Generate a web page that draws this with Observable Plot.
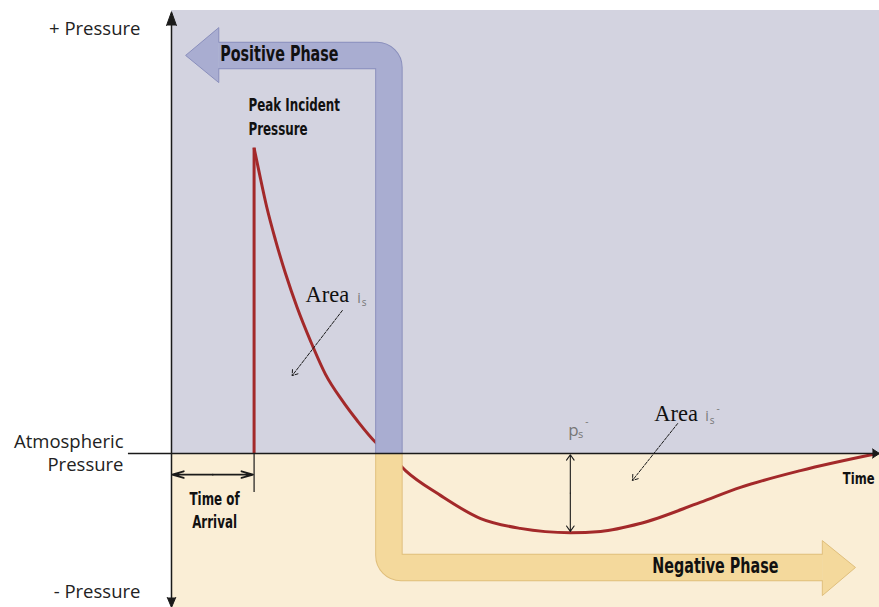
<!DOCTYPE html>
<html>
<head>
<meta charset="utf-8">
<script src="https://cdn.jsdelivr.net/npm/d3@7"></script>
<script src="https://cdn.jsdelivr.net/npm/@observablehq/plot@0.6"></script>
<style>
  html, body { margin: 0; padding: 0; background: #fff; }
  #chart svg { display: block; }
</style>
</head>
<body>
<div id="chart"></div>
<script>
// Free-field blast wave: incident pressure at a fixed point versus time.
// Time runs 0..100 (arbitrary units), pressure is relative to the peak (=100).

const arrivalTime = 11.7;     // time of arrival
const peakPressure = 100;     // peak incident pressure
const positiveEnd = 30.8;     // end of the positive phase
const timeMax = 100.3;
const pressureMax = 145;
const pressureMin = -50.4;

// Decay of the positive phase, from the peak down to atmospheric
const positiveTime     = [11.7, 12.45, 13.5, 14.75, 16.15, 17.8, 19.7, 21.8, 24.2, 26.3, 28.9, 30.8];
const positivePressure = [100, 91.7, 80.6, 69.7, 58.9, 47.8, 36.8, 26.0, 17.3, 10.8, 3.7, 0];

// Negative (suction) phase back to atmospheric
const negativeTime     = [33.15, 38.1, 43.8, 49.4, 56.5, 60.8, 66.4, 74.9, 80.6, 89.1, 100];
const negativePressure = [-5.6, -13.7, -21.3, -24.5, -25.9, -25.5, -22.9, -16.0, -11.1, -5.6, 0];

// Minimum of the negative phase (p_s^-)
const minTime = 56.5;
const minPressure = -25.9;

// Phase arrows: shaft centre lines and heads
const positiveShaftTime     = [6.7, positiveEnd, positiveEnd];
const positiveShaftPressure = [130.3, 130.3, 0];
const positiveHeadTime      = [6.7, 6.7, 2.0, 6.7, 6.7];
const positiveHeadPressure  = [134.6, 139.4, 130.3, 121.4, 126.0];

const negativeShaftTime     = [positiveEnd, positiveEnd, 92.2];
const negativeShaftPressure = [0, -37.3, -37.3];
const negativeHeadTime      = [92.2, 92.2, 96.9, 92.2, 92.2];
const negativeHeadPressure  = [-33.0, -28.5, -37.3, -46.5, -41.6];

// Axis arrow heads
const topHeadTime        = [-0.7, 0, 0.7];
const topHeadPressure    = [140.1, 144.6, 140.1];
const bottomHeadTime     = [-0.6, 0, 0.6];
const bottomHeadPressure = [-47.1, -50.4, -47.1];
const rightHeadTime      = [99.3, 100.3, 99.3];
const rightHeadPressure  = [1.5, 0, -1.5];

// Text
const axisLabels  = ["+ Pressure", "Atmospheric\nPressure", "- Pressure"];
const phaseLabels = ["Positive Phase", "Negative Phase"];
const noteLabels  = ["Peak Incident\nPressure", "Time of\nArrival", "Time"];

const zip = (ts, ps) => ts.map((t, i) => ({t, p: ps[i]}));

const red = "#a3292a";
const lavender = "#d3d3e0";
const cream = "#faeed6";
const blueFill = "#a9add1", blueEdge = "#8a8fbc";
const goldFill = "#f4d99c", goldEdge = "#e0bf7c";
const ink = "#1a1a1a";
const sans = "'Open Sans', 'Noto Sans', sans-serif";
const narrow = "DejaVu Sans";
const narrowScale = 0.7;      // horizontal squeeze for the caption face
const serif = "'Liberation Serif', 'DejaVu Serif', serif";

// d3 curve that keeps straight runs and rounds each interior corner
function roundedCorners(radius) {
  return function (context) {
    let pts = [];
    return {
      areaStart() {}, areaEnd() {},
      lineStart() { pts = []; },
      point(x, y) { pts.push([+x, +y]); },
      lineEnd() {
        const n = pts.length;
        if (!n) return;
        context.moveTo(pts[0][0], pts[0][1]);
        for (let i = 1; i < n - 1; ++i) {
          context.arcTo(pts[i][0], pts[i][1], pts[i + 1][0], pts[i + 1][1], radius);
        }
        if (n > 1) context.lineTo(pts[n - 1][0], pts[n - 1][1]);
      }
    };
  };
}

const positiveShaft = zip(positiveShaftTime, positiveShaftPressure);
const positiveHead = zip(positiveHeadTime, positiveHeadPressure);
const negativeShaft = zip(negativeShaftTime, negativeShaftPressure);
const negativeHead = zip(negativeHeadTime, negativeHeadPressure);

const decay = zip(positiveTime, positivePressure).concat(zip(negativeTime, negativePressure));

function phaseArrow(shaft, head, fill, edge, shadow) {
  const common = {x: "t", y: "p"};
  return [
    Plot.line(shaft, {...common, stroke: shadow, strokeOpacity: 0.42, strokeWidth: 26, strokeLinecap: "butt",
      curve: roundedCorners(12), dx: 4, dy: 4, ariaLabel: "arrow shadow"}),
    Plot.line(head, {...common, fill: shadow, fillOpacity: 0.42, stroke: "none", dx: 4, dy: 4, ariaLabel: "arrow shadow"}),
    Plot.line(shaft, {...common, stroke: edge, strokeWidth: 27.5, strokeLinecap: "butt", curve: roundedCorners(12)}),
    Plot.line(shaft, {...common, stroke: fill, strokeWidth: 25.5, strokeLinecap: "butt", curve: roundedCorners(12)}),
    Plot.line(head, {...common, fill, stroke: edge, strokeWidth: 1, strokeLinejoin: "miter", strokeMiterlimit: 10})
  ];
}

const narrowText = (label, options) =>
  Plot.text([label], {text: d => d, fontFamily: narrow, fontWeight: "bold", fill: "#111", ...options});

const chart = Plot.plot({
  width: 879,
  height: 607,
  marginLeft: 171,
  marginRight: 0,
  marginTop: 10,
  marginBottom: 0,
  x: {domain: [0, timeMax], axis: null},
  y: {domain: [pressureMin, pressureMax], axis: null},
  style: {background: "#fff", overflow: "visible"},
  marks: [
    // positive and negative pressure regions
    Plot.rect([0], {x1: 0, x2: timeMax, y1: 0, y2: pressureMax, fill: lavender}),
    Plot.rect([0], {x1: 0, x2: timeMax, y1: pressureMin, y2: 0, fill: cream}),

    // pressure history
    Plot.ruleX([arrivalTime], {y1: 0, y2: peakPressure, stroke: red, strokeWidth: 3}),
    Plot.line(decay, {x: "t", y: "p", stroke: red, strokeWidth: 3, curve: "monotone-x", strokeLinecap: "butt"}),

    // phase arrows
    ...phaseArrow(negativeShaft, negativeHead, goldFill, goldEdge, "#5a4a30"),
    ...phaseArrow(positiveShaft, positiveHead, blueFill, blueEdge, "#2e2e50"),

    // axes
    Plot.ruleY([0], {x1: -6.1, x2: timeMax, stroke: ink, strokeWidth: 1.5}),
    Plot.ruleX([0], {y1: -48, y2: 142, stroke: ink, strokeWidth: 1.5}),
    Plot.line(zip(topHeadTime, topHeadPressure), {x: "t", y: "p", fill: ink, stroke: ink, strokeWidth: 1}),
    Plot.line(zip(bottomHeadTime, bottomHeadPressure), {x: "t", y: "p", fill: ink, stroke: ink, strokeWidth: 1}),
    Plot.line(zip(rightHeadTime, rightHeadPressure), {x: "t", y: "p", fill: ink, stroke: ink, strokeWidth: 1}),

    // time of arrival
    Plot.ruleX([arrivalTime], {y1: 0, y2: -12.8, stroke: ink, strokeWidth: 1.2}),
    Plot.arrow([0], {x1: arrivalTime / 2, y1: -6.9, x2: 0.1, y2: -6.9, stroke: ink, strokeWidth: 1.8, headLength: 10, headAngle: 32}),
    Plot.arrow([0], {x1: arrivalTime / 2, y1: -6.9, x2: arrivalTime - 0.15, y2: -6.9, stroke: ink, strokeWidth: 1.8, headLength: 10, headAngle: 32}),

    // p_s^- : depth of the negative phase
    Plot.arrow([0], {x1: minTime, y1: minPressure / 2, x2: minTime, y2: -0.4, stroke: ink, strokeWidth: 1.1, headLength: 9, headAngle: 70}),
    Plot.arrow([0], {x1: minTime, y1: minPressure / 2, x2: minTime, y2: minPressure + 0.4, stroke: ink, strokeWidth: 1.1, headLength: 9, headAngle: 70}),

    // impulse (area) pointers
    Plot.arrow([0], {x1: 24.2, y1: 46.8, x2: 17.1, y2: 25.5, stroke: ink, strokeWidth: 1, strokeDasharray: "3,1.5", headLength: 9, headAngle: 70}),
    Plot.arrow([0], {x1: 71.7, y1: 9.8, x2: 65.3, y2: -8.8, stroke: ink, strokeWidth: 1, strokeDasharray: "3,1.5", headLength: 9, headAngle: 70}),

    // axis labels
    Plot.text([axisLabels[0]], {x: -4.4, y: 138.8, text: d => d, textAnchor: "end", fontSize: 18.5, fontFamily: sans, fill: "#222"}),
    Plot.text([axisLabels[1]], {x: -6.8, y: 0.6, text: d => d, textAnchor: "end", fontSize: 18.5, lineHeight: 1.25, fontFamily: sans, fill: "#222"}),
    Plot.text([axisLabels[2]], {x: -4.4, y: -45.2, text: d => d, textAnchor: "end", fontSize: 18.5, fontFamily: sans, fill: "#222"}),

    // phase labels
    narrowText(phaseLabels[0], {x: 6.9, y: 130.6, textAnchor: "start", fontSize: 20.5}),
    narrowText(phaseLabels[1], {x: 68.1, y: -37.0, textAnchor: "start", fontSize: 20.5}),

    // notes
    narrowText(noteLabels[0], {x: 10.9, y: 110.8, textAnchor: "start", fontSize: 17, lineHeight: 1.47}),
    narrowText(noteLabels[1], {x: 6.1, y: -18.2, textAnchor: "middle", fontSize: 17, lineHeight: 1.35}),
    narrowText(noteLabels[2], {x: 99.6, y: -8.2, textAnchor: "end", fontSize: 16.5}),

    // impulse labels: "Area i_s" and "Area i_s^-"
    Plot.text(["Area"], {x: 19.0, y: 51.8, text: d => d, textAnchor: "start", fontSize: 22.5, fontFamily: serif, fill: "#111"}),
    Plot.text(["i"], {x: 26.3, y: 50.6, text: d => d, textAnchor: "start", fontSize: 14, fontFamily: sans, fill: "#777"}),
    Plot.text(["s"], {x: 26.95, y: 49.4, text: d => d, textAnchor: "start", fontSize: 10, fontFamily: sans, fill: "#777"}),
    Plot.text(["Area"], {x: 68.4, y: 13.1, text: d => d, textAnchor: "start", fontSize: 22.5, fontFamily: serif, fill: "#111"}),
    Plot.text(["i"], {x: 75.6, y: 12.0, text: d => d, textAnchor: "start", fontSize: 14, fontFamily: sans, fill: "#777"}),
    Plot.text(["s"], {x: 76.25, y: 10.8, text: d => d, textAnchor: "start", fontSize: 10, fontFamily: sans, fill: "#777"}),
    Plot.text(["-"], {x: 77.2, y: 14.6, text: d => d, textAnchor: "start", fontSize: 10, fontFamily: sans, fill: "#777"}),

    // p_s^-
    Plot.text(["p"], {x: 56.2, y: 7.6, text: d => d, textAnchor: "start", fontSize: 17, fontFamily: sans, fill: "#777"}),
    Plot.text(["s"], {x: 57.6, y: 6.2, text: d => d, textAnchor: "start", fontSize: 11, fontFamily: sans, fill: "#777"}),
    Plot.text(["-"], {x: 58.6, y: 10.4, text: d => d, textAnchor: "start", fontSize: 10, fontFamily: sans, fill: "#777"})
  ]
});

// soften the drop shadows behind the phase arrows
chart.querySelectorAll('[aria-label="arrow shadow"]').forEach(g => { g.style.filter = "blur(2.5px)"; });

// squeeze the caption face horizontally about each label's anchor
chart.querySelectorAll("text").forEach(t => {
  const g = t.closest("[font-family]");
  if (!g || g.getAttribute("font-family") !== narrow) return;
  let tr = t.getAttribute("transform");
  if (!tr) {
    tr = `translate(${t.getAttribute("x") || 0},${t.getAttribute("y") || 0})`;
    t.removeAttribute("x");
    t.removeAttribute("y");
  }
  t.setAttribute("transform", `${tr} scale(${narrowScale},1)`);
});

document.getElementById("chart").appendChild(chart);
</script>
</body>
</html>
